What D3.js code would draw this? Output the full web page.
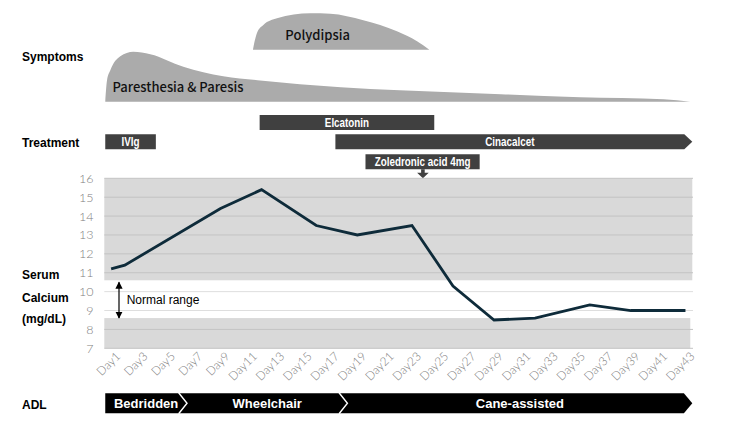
<!DOCTYPE html>
<html><head><meta charset="utf-8">
<script src="https://cdn.jsdelivr.net/npm/d3@7"></script>
<style>
html,body{margin:0;padding:0;background:#fff;}
svg{display:block;}
</style></head>
<body>
<script>
// ---------- DATA ----------
const dayLabels = d3.range(1, 44).map(d => "Day" + d);
const measureDays = [1, 2, 9, 12, 16, 19, 23, 26, 29, 32, 36, 39, 43];
const calcium = [11.2, 11.4, 14.4, 15.4, 13.5, 13.0, 13.5, 10.3, 8.5, 8.6, 9.3, 9.0, 9.0];
const yTicks = [7, 8, 9, 10, 11, 12, 13, 14, 15, 16];
const normalRange = [8.6, 10.6];

// symptom intensity profiles (timeline position in days, relative intensity 0-10)
const paresthesiaT = [0.07, 0.2, 0.44, 1.17, 2.12, 3.36, 5.78, 8.7, 11.2, 14.3, 17.3, 21.6, 29, 34.8, 40.9, 42.85];
const paresthesiaV = [0, 4.3, 6.3, 9.1, 10, 9.5, 7, 5.1, 4.3, 3.5, 2.9, 2.3, 1.5, 0.9, 0.5, 0];
const polydipsiaT = [10.87, 11.17, 11.65, 12.63, 15.07, 16.53, 18.94, 21.4, 22.87, 23.77];
const polydipsiaV = [0, 3.4, 5, 6.3, 7.3, 7.2, 5.9, 3.7, 1.7, 0];

// treatments (timeline start / end in days)
const treatNames = ["Elcatonin", "IVIg", "Cinacalcet", "Zoledronic acid 4mg"];
const treatStart = [11.36, 0.07, 16.9, 19.1];
const treatEnd = [24.13, 3.77, 43, 27.45];
const treatRow = [0, 1, 1, 2];
const treatArrowRight = [false, false, true, false];
const zoledronicDoseDay = 23.3;

// ADL phases
const adlNames = ["Bedridden", "Wheelchair", "Cane-assisted"];
const adlStart = [0.07, 6.05, 17.78];
const adlEnd = [6.05, 17.78, 43];

// ---------- LAYOUT ----------
const W = 750, H = 438;
const svg = d3.select("body").append("svg").attr("width", W).attr("height", H);

const xPt = d3.scalePoint().domain(dayLabels).range([104.3, 692.3]).padding(0.5);
const xT = d3.scaleLinear().domain([0, 43]).range([104.3, 692.3]);
const y = d3.scaleLinear().domain([7, 16]).range([348.3, 178.3]);
const sympH = d3.scaleLinear().domain([0, 10]).range([0, 50]);

const labelFont = "'Liberation Sans', Arial, sans-serif";

// ---------- ROW LABELS ----------
const rowLabels = [["Symptoms", 61], ["Treatment", 146.5], ["Serum", 279.3], ["Calcium", 301.7], ["(mg/dL)", 323.3], ["ADL", 408.5]];
svg.append("g").selectAll("text").data(rowLabels).join("text")
  .attr("x", 22).attr("y", d => d[1]).text(d => d[0])
  .attr("font-family", labelFont).attr("font-weight", "bold").attr("font-size", 12).attr("fill", "#000");

// ---------- SYMPTOMS ----------
function sympArea(ts, vs, base) {
  const pts = ts.map((t, i) => [t, vs[i]]);
  return d3.area().x(d => xT(d[0])).y0(base).y1(d => base - sympH(d[1])).curve(d3.curveMonotoneX)(pts);
}
svg.append("path").attr("d", sympArea(paresthesiaT, paresthesiaV, 101.7)).attr("fill", "#ababab");
svg.append("path").attr("d", sympArea(polydipsiaT, polydipsiaV, 49.7)).attr("fill", "#ababab");
const sympFont = "'Noto Sans CJK JP', 'Noto Sans', sans-serif";
svg.append("text").attr("x", xT(15.6)).attr("y", 39.5).attr("text-anchor", "middle")
  .attr("font-family", sympFont).attr("font-weight", 500).attr("font-size", 13).attr("fill", "#111").text("Polydipsia");
svg.append("text").attr("x", 112.5).attr("y", 91.8)
  .attr("font-family", sympFont).attr("font-weight", 500).attr("font-size", 13).attr("fill", "#111").text("Paresthesia & Paresis");

// ---------- TREATMENTS ----------
const rowTop = [115, 134.3, 154.3];
const barH = 15;
const tg = svg.append("g");
treatNames.forEach((name, i) => {
  const x0 = xT(treatStart[i]), x1 = xT(treatEnd[i]);
  const top = rowTop[treatRow[i]];
  const head = treatArrowRight[i] ? 8 : 0;
  const body = x1 - head;
  const pts = [[x0, top], [body, top], [x1, top + barH / 2], [body, top + barH], [x0, top + barH]];
  tg.append("path").attr("d", "M" + pts.join("L") + "Z").attr("fill", "#404040");
  tg.append("text")
    .attr("transform", `translate(${(x0 + body) / 2},${top + barH / 2})scale(0.82,1)`)
    .attr("dy", "0.36em")
    .attr("text-anchor", "middle").attr("font-family", labelFont).attr("font-weight", "bold")
    .attr("font-size", 12).attr("fill", "#fff").text(name);
});
{
  const cx = xT(zoledronicDoseDay), top = rowTop[2] + barH;
  const p = [[cx - 1.8, top], [cx + 1.8, top], [cx + 1.8, top + 3.5], [cx + 5.8, top + 3.5], [cx, top + 9], [cx - 5.8, top + 3.5], [cx - 1.8, top + 3.5]];
  tg.append("path").attr("d", "M" + p.join("L") + "Z").attr("fill", "#404040");
}

// ---------- SERUM CALCIUM CHART ----------
const cg = svg.append("g");
cg.append("rect").attr("x", 104.3).attr("width", 588).attr("y", y(16)).attr("height", y(normalRange[1]) - y(16)).attr("fill", "#d9d9d9");
cg.append("rect").attr("x", 104.3).attr("width", 586).attr("y", y(normalRange[0])).attr("height", y(7) - y(normalRange[0])).attr("fill", "#d9d9d9");
cg.selectAll("line.grid").data(yTicks).join("line").attr("class", "grid")
  .attr("x1", 104.3).attr("x2", 693).attr("y1", d => y(d)).attr("y2", d => y(d))
  .attr("stroke", d => (d > normalRange[0] && d < normalRange[1]) ? "#dedede" : "#c3c3c3").attr("stroke-width", 1);
cg.selectAll("text.yt").data(yTicks).join("text").attr("class", "yt")
  .attr("x", 93.5).attr("y", d => y(d)).attr("dy", "0.36em").attr("text-anchor", "end")
  .attr("font-family", "Lato, 'Noto Sans', sans-serif").attr("font-weight", 300).attr("font-size", 12.5)
  .attr("fill", "#808080").text(d => d);

// x labels
const xLabs = dayLabels.filter((d, i) => i % 2 === 0);
cg.selectAll("text.xt").data(xLabs).join("text").attr("class", "xt")
  .attr("transform", d => `translate(${xPt(d) + 7},${354})rotate(-45)`)
  .attr("dy", "0.35em").attr("text-anchor", "end")
  .attr("font-family", "Lato, 'Noto Sans', sans-serif").attr("font-weight", 300).attr("font-size", 12)
  .attr("fill", "#808080").text(d => d);

// calcium line
const linePts = measureDays.map((d, i) => [xPt("Day" + d), y(calcium[i])]);
cg.append("path").attr("d", d3.line()(linePts)).attr("fill", "none")
  .attr("stroke", "#0e2b3a").attr("stroke-width", 2.8).attr("stroke-linejoin", "miter");

// normal range annotation
const defs = svg.append("defs");
defs.append("marker").attr("id", "ah").attr("viewBox", "0 0 10 10").attr("refX", 9).attr("refY", 5)
  .attr("markerWidth", 6).attr("markerHeight", 6).attr("orient", "auto-start-reverse")
  .append("path").attr("d", "M0,0L10,5L0,10Z").attr("fill", "#000");
cg.append("line").attr("x1", 119).attr("x2", 119).attr("y1", y(10.5)).attr("y2", y(8.6))
  .attr("stroke", "#000").attr("stroke-width", 1.2)
  .attr("marker-start", "url(#ah)").attr("marker-end", "url(#ah)");
cg.append("text").attr("x", 126.7).attr("y", 304.3).attr("font-family", labelFont).attr("font-size", 12)
  .attr("fill", "#000").text("Normal range");

// ---------- ADL ----------
const ag = svg.append("g");
const aTop = 393.3, aH = 20, aMid = aTop + aH / 2;
const head = 8.4;
const aX0 = xT(adlStart[0]), aX1 = xT(adlEnd[adlEnd.length - 1]);
ag.append("path").attr("d", `M${aX0},${aTop}L${aX1 - head},${aTop}L${aX1},${aMid}L${aX1 - head},${aTop + aH}L${aX0},${aTop + aH}Z`).attr("fill", "#000");
adlEnd.slice(0, -1).forEach(e => {
  const tip = xT(e);
  ag.append("path").attr("d", `M${tip - head},${aTop - 0.5}L${tip},${aMid}L${tip - head},${aTop + aH + 0.5}`)
    .attr("fill", "none").attr("stroke", "#fff").attr("stroke-width", 1.4);
});
adlNames.forEach((n, i) => {
  ag.append("text").attr("x", (xT(adlStart[i]) + xT(adlEnd[i])) / 2).attr("y", aMid).attr("dy", "0.36em")
    .attr("text-anchor", "middle").attr("font-family", labelFont).attr("font-weight", "bold")
    .attr("font-size", 13).attr("fill", "#fff").text(n);
});
</script>
</body></html>
